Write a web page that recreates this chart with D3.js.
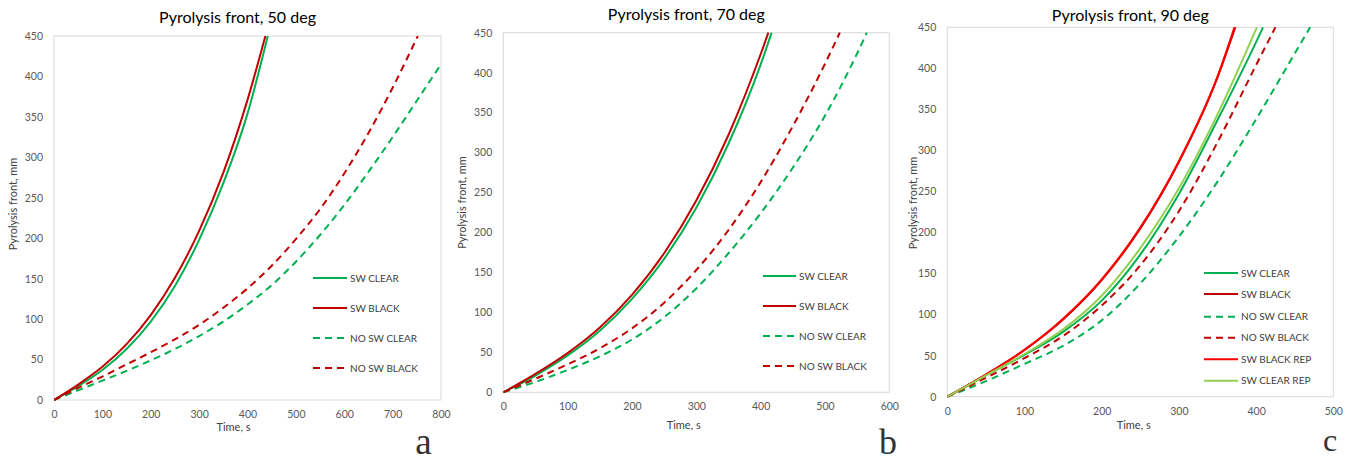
<!DOCTYPE html>
<html>
<head>
<meta charset="utf-8">
<script src="https://cdn.jsdelivr.net/npm/d3@7"></script>
<style>
  body { margin: 0; background: #fff; }
  svg { display: block; }
</style>
</head>
<body>
<svg id="chart" width="1354" height="462"></svg>
<script>
// ---------- data: pyrolysis front position (mm) versus time (s) ----------

// 50 deg
const a_swClear_t    = [0, 50, 100, 150, 200, 250, 300, 350, 400, 442];
const a_swClear_v    = [0, 17, 37, 63, 97, 141, 198, 268, 354, 450];
const a_swBlack_t    = [0, 50, 100, 150, 200, 250, 300, 350, 400, 437];
const a_swBlack_v    = [0, 19, 41, 69, 105, 151, 209, 281, 371, 450];
const a_noSwClear_t  = [0, 50, 100, 150, 200, 250, 300, 350, 400, 450, 500, 550, 600, 650, 700, 750, 800];
const a_noSwClear_v  = [0, 12, 24, 36, 49, 63, 79, 97, 118, 142, 171, 204, 241, 282, 325, 370, 415];
const a_noSwBlack_t  = [0, 50, 100, 150, 200, 250, 300, 350, 400, 450, 500, 550, 600, 650, 700, 752];
const a_noSwBlack_v  = [0, 15, 29, 44, 59, 75, 93, 114, 138, 166, 199, 236, 280, 330, 386, 450];

// 70 deg
const b_swClear_t    = [0, 50, 100, 150, 200, 250, 300, 350, 400, 417];
const b_swClear_v    = [0, 21, 46, 77, 117, 167, 231, 311, 410, 450];
const b_swBlack_t    = [0, 50, 100, 150, 200, 250, 300, 350, 400, 412];
const b_swBlack_v    = [0, 23, 49, 81, 122, 174, 240, 322, 423, 450];
const b_noSwClear_t  = [0, 50, 100, 150, 200, 250, 300, 350, 400, 450, 500, 550, 565];
const b_noSwClear_v  = [0, 13, 28, 45, 66, 94, 130, 174, 224, 281, 346, 424, 450];
const b_noSwBlack_t  = [0, 50, 100, 150, 200, 250, 300, 350, 400, 450, 500, 523];
const b_noSwBlack_v  = [0, 17, 35, 55, 80, 112, 153, 203, 263, 333, 411, 450];

// 90 deg
const c_swClear_t      = [0, 50, 100, 150, 200, 250, 300, 350, 400, 409];
const c_swClear_v      = [0, 26, 51, 79, 117, 173, 247, 337, 432, 450];
const c_swBlack_t      = [0, 50, 100, 150, 200, 250, 300, 350, 373];
const c_swBlack_v      = [0, 27, 57, 94, 142, 205, 286, 389, 450];
const c_noSwClear_t    = [0, 50, 100, 150, 200, 250, 300, 350, 400, 450, 470];
const c_noSwClear_v    = [0, 19, 40, 62, 93, 138, 195, 262, 338, 418, 450];
const c_noSwBlack_t    = [0, 50, 100, 150, 200, 250, 300, 350, 400, 425];
const c_noSwBlack_v    = [0, 23, 47, 74, 111, 160, 226, 310, 404, 450];
const c_swBlackRep_t   = [0, 50, 100, 150, 200, 250, 300, 350, 372];
const c_swBlackRep_v   = [0, 27, 57, 95, 143, 206, 287, 390, 450];
const c_swClearRep_t   = [0, 50, 100, 150, 200, 250, 300, 350, 401];
const c_swClearRep_v   = [0, 26, 52, 82, 123, 181, 254, 344, 450];

// axis ticks
const yTicks  = [0, 50, 100, 150, 200, 250, 300, 350, 400, 450];
const xTicksA = [0, 100, 200, 300, 400, 500, 600, 700, 800];
const xTicksB = [0, 100, 200, 300, 400, 500, 600];
const xTicksC = [0, 100, 200, 300, 400, 500];

const titles  = ["Pyrolysis front, 50 deg", "Pyrolysis front, 70 deg", "Pyrolysis front, 90 deg"];
const letters = ["a", "b", "c"];
const xTitle  = "Time, s";
const yTitle  = "Pyrolysis front, mm";

// series colours
const GREEN = "#00b050", DARKRED = "#c00000", RED = "#ff0000", LIGHTGREEN = "#92d050";

function zip(t, v) { return t.map((d, i) => ({ t: d, v: v[i] })); }

const basic = (p) => [
  { name: "SW CLEAR",    data: zip(p.swClear_t, p.swClear_v),     color: GREEN,   dash: null },
  { name: "SW BLACK",    data: zip(p.swBlack_t, p.swBlack_v),     color: DARKRED, dash: null },
  { name: "NO SW CLEAR", data: zip(p.noSwClear_t, p.noSwClear_v), color: GREEN,   dash: "7,5" },
  { name: "NO SW BLACK", data: zip(p.noSwBlack_t, p.noSwBlack_v), color: DARKRED, dash: "7,5" }
];

const panels = [
  {
    title: titles[0], letter: letters[0], xMax: 800, xTicks: xTicksA,
    box: { l: 54, r: 441, t: 36, b: 400 },
    titleY: 22.5, xTitlePos: [233.5, 430.5], yTitlePos: [13, 204],
    letterPos: [423.5, 454], letterSize: 37,
    legend: { x0: 313, x1: 347, tx: 350, rows: [278, 308, 338, 368] },
    series: basic({ swClear_t: a_swClear_t, swClear_v: a_swClear_v, swBlack_t: a_swBlack_t, swBlack_v: a_swBlack_v,
                    noSwClear_t: a_noSwClear_t, noSwClear_v: a_noSwClear_v, noSwBlack_t: a_noSwBlack_t, noSwBlack_v: a_noSwBlack_v })
  },
  {
    title: titles[1], letter: letters[1], xMax: 600, xTicks: xTicksB,
    box: { l: 503.3, r: 889.3, t: 32.7, b: 392.3 },
    titleY: 19.5, xTitlePos: [683.7, 429], yTitlePos: [461.7, 202.5],
    letterPos: [888, 454], letterSize: 36,
    legend: { x0: 763, x1: 796, tx: 799, rows: [276, 306, 336, 366] },
    series: basic({ swClear_t: b_swClear_t, swClear_v: b_swClear_v, swBlack_t: b_swBlack_t, swBlack_v: b_swBlack_v,
                    noSwClear_t: b_noSwClear_t, noSwClear_v: b_noSwClear_v, noSwBlack_t: b_noSwBlack_t, noSwBlack_v: b_noSwBlack_v })
  },
  {
    title: titles[2], letter: letters[2], xMax: 500, xTicks: xTicksC,
    box: { l: 947.3, r: 1333.3, t: 27.3, b: 396.7 },
    titleY: 20.5, xTitlePos: [1133.7, 429], yTitlePos: [912.7, 203],
    letterPos: [1330, 451], letterSize: 32,
    legend: { x0: 1204, x1: 1238, tx: 1241, rows: [273, 294, 316.7, 337.7, 359.3, 380.7] },
    series: basic({ swClear_t: c_swClear_t, swClear_v: c_swClear_v, swBlack_t: c_swBlack_t, swBlack_v: c_swBlack_v,
                    noSwClear_t: c_noSwClear_t, noSwClear_v: c_noSwClear_v, noSwBlack_t: c_noSwBlack_t, noSwBlack_v: c_noSwBlack_v })
      .concat([
        { name: "SW BLACK REP", data: zip(c_swBlackRep_t, c_swBlackRep_v), color: RED,        dash: null },
        { name: "SW CLEAR REP", data: zip(c_swClearRep_t, c_swClearRep_v), color: LIGHTGREEN, dash: null }
      ])
  }
];

const svg = d3.select("#chart");
const FONT = "Lato, 'Open Sans', sans-serif";

panels.forEach((p, idx) => {
  const x = d3.scaleLinear().domain([0, p.xMax]).range([p.box.l, p.box.r]);
  const y = d3.scaleLinear().domain([0, 450]).range([p.box.b, p.box.t]);
  const g = svg.append("g");

  // plot frame
  g.append("rect")
    .attr("x", p.box.l).attr("y", p.box.t)
    .attr("width", p.box.r - p.box.l).attr("height", p.box.b - p.box.t)
    .attr("fill", "none").attr("stroke", "#d9d9d9").attr("stroke-width", 1);

  // axes (labels only; the frame acts as the axis line)
  const yAxis = g.append("g").attr("transform", `translate(${p.box.l},0)`)
    .call(d3.axisLeft(y).tickValues(yTicks).tickSize(0).tickPadding(11));
  const xAxis = g.append("g").attr("transform", `translate(0,${p.box.b})`)
    .call(d3.axisBottom(x).tickValues(p.xTicks).tickSize(0).tickPadding(10.5));
  [yAxis, xAxis].forEach(ax => {
    ax.select(".domain").remove();
    ax.selectAll("text").attr("fill", "#595959").style("font-family", FONT).style("font-size", "10.5px");
  });

  // clip to the plot area
  const clipId = "clip" + idx;
  svg.append("clipPath").attr("id", clipId).append("rect")
    .attr("x", p.box.l).attr("y", p.box.t - 1)
    .attr("width", p.box.r - p.box.l).attr("height", p.box.b - p.box.t + 2);

  const line = d3.line().x(d => x(d.t)).y(d => y(d.v)).curve(d3.curveMonotoneX);
  const lines = g.append("g").attr("clip-path", `url(#${clipId})`);
  p.series.forEach(s => {
    lines.append("path")
      .datum(s.data)
      .attr("d", line)
      .attr("fill", "none")
      .attr("stroke", s.color)
      .attr("stroke-width", 2)
      .attr("stroke-dasharray", s.dash)
      .attr("stroke-linejoin", "round");
  });

  // legend
  const leg = g.append("g");
  p.series.forEach((s, i) => {
    const ry = p.legend.rows[i];
    leg.append("line")
      .attr("x1", p.legend.x0).attr("x2", p.legend.x1)
      .attr("y1", ry).attr("y2", ry)
      .attr("stroke", s.color).attr("stroke-width", 2)
      .attr("stroke-dasharray", s.dash);
    leg.append("text")
      .attr("x", p.legend.tx).attr("y", ry).attr("dy", "0.35em")
      .attr("fill", "#404040")
      .style("font-family", FONT).style("font-size", "10px")
      .text(s.name);
  });

  // chart title
  g.append("text")
    .attr("x", (p.box.l + p.box.r) / 2 - 10).attr("y", p.titleY)
    .attr("text-anchor", "middle")
    .attr("fill", "#000")
    .style("font-family", FONT).style("font-size", "16px")
    .text(p.title);

  // axis titles
  g.append("text")
    .attr("x", p.xTitlePos[0]).attr("y", p.xTitlePos[1])
    .attr("text-anchor", "middle").attr("fill", "#404040")
    .style("font-family", FONT).style("font-size", "11px")
    .text(xTitle);
  g.append("text")
    .attr("transform", `translate(${p.yTitlePos[0]},${p.yTitlePos[1]}) rotate(-90)`)
    .attr("text-anchor", "middle").attr("dy", "0.35em").attr("fill", "#404040")
    .style("font-family", FONT).style("font-size", "11px")
    .text(yTitle);

  // panel letter
  g.append("text")
    .attr("x", p.letterPos[0]).attr("y", p.letterPos[1])
    .attr("text-anchor", "middle").attr("fill", "#333")
    .style("font-family", "'Liberation Serif', 'DejaVu Serif', serif")
    .style("font-size", p.letterSize + "px")
    .text(p.letter);
});
</script>
</body>
</html>
